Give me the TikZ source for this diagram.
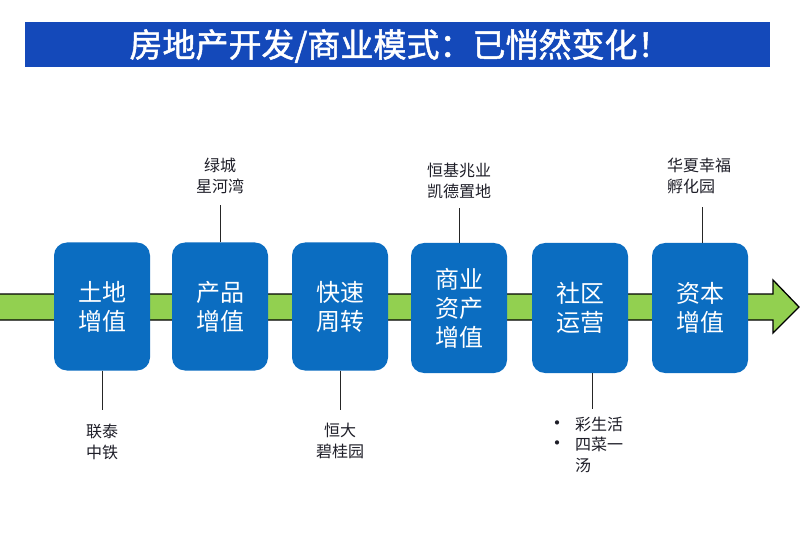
\documentclass[tikz,border=0pt]{standalone}
\usepackage{fontspec}
\setmainfont{Noto Sans CJK SC}
\begin{document}
\begin{tikzpicture}[x=1pt,y=-1pt,
  every node/.style={inner sep=0pt,outer sep=0pt},
  stagebox/.style={rounded corners=13pt,fill=boxblue,minimum width=96pt,minimum height=128pt,text=white,font=\fontsize{24}{29}\selectfont,align=center},
  lbl/.style={font=\fontsize{16}{20.5}\selectfont,text=labelgray,align=center},
  link/.style={draw=black!85,line width=0.8pt}]
\definecolor{barblue}{RGB}{20,73,186}
\definecolor{boxblue}{RGB}{11,109,193}
\definecolor{arrowgreen}{RGB}{146,208,80}
\definecolor{labelgray}{RGB}{30,30,40}
\useasboundingbox (0,0) rectangle (800,553);
\fill[white] (0,0) rectangle (800,553);
% title bar
\node[fill=barblue,minimum width=745pt,minimum height=45pt,anchor=north west] (bar) at (25,22) {};
\node[text=white,font=\fontsize{33}{33}\selectfont] (title) at (400,46) {\addfontfeature{FakeBold=1.5}房地产开发/商业模式：已悄然变化！};
% arrow
\draw[fill=arrowgreen,draw=black,line width=1.3pt,line join=miter]
  (-2,294) -- (773,294) -- (773,280) -- (799,307) -- (773,333) -- (773,320) -- (-2,320) -- cycle;
% boxes
\node[stagebox] (b1) at (102,306.5) {土地\\增值};
\node[stagebox] (b2) at (220,306.5) {产品\\增值};
\node[stagebox] (b3) at (340,306.5) {快速\\周转};
\node[stagebox,minimum height=130pt] (b4) at (459,308) {商业\\资产\\增值};
\node[stagebox,minimum height=130pt] (b5) at (580,308) {社区\\运营};
\node[stagebox,minimum height=130pt] (b6) at (700,308) {资本\\增值};
% labels
\node[lbl] (l1) at (102,442) {联泰\\中铁};
\node[lbl] (l2) at (220,176) {绿城\\星河湾};
\node[lbl] (l3) at (340,441) {恒大\\碧桂园};
\node[lbl] (l4) at (459,181) {恒基兆业\\凯德置地};
\node[lbl,align=left,anchor=west] (l6) at (667,176) {华夏幸福\\孵化园};
\node[lbl,align=left,anchor=north west] (l5) at (547,417) {%
  \makebox[28pt][l]{\fontsize{20}{20}\selectfont •}彩生活\\\makebox[28pt][l]{\fontsize{20}{20}\selectfont •}四菜一\\\makebox[28pt][l]{}汤};
% connectors
\coordinate (c1) at (102,410);
\coordinate (c2) at (220,205);
\coordinate (c3) at (340,410);
\coordinate (c4) at (459,208);
\coordinate (c5) at (592,409);
\coordinate (c6) at (702,207);
\draw[link] (b1.south) -- (c1);
\draw[link] (b2.north) -- (c2);
\draw[link] (b3.south) -- (c3);
\draw[link] (b4.north) -- (c4);
\draw[link] (b5.south -| c5) -- (c5);
\draw[link] (b6.north -| c6) -- (c6);
\end{tikzpicture}
\end{document}
